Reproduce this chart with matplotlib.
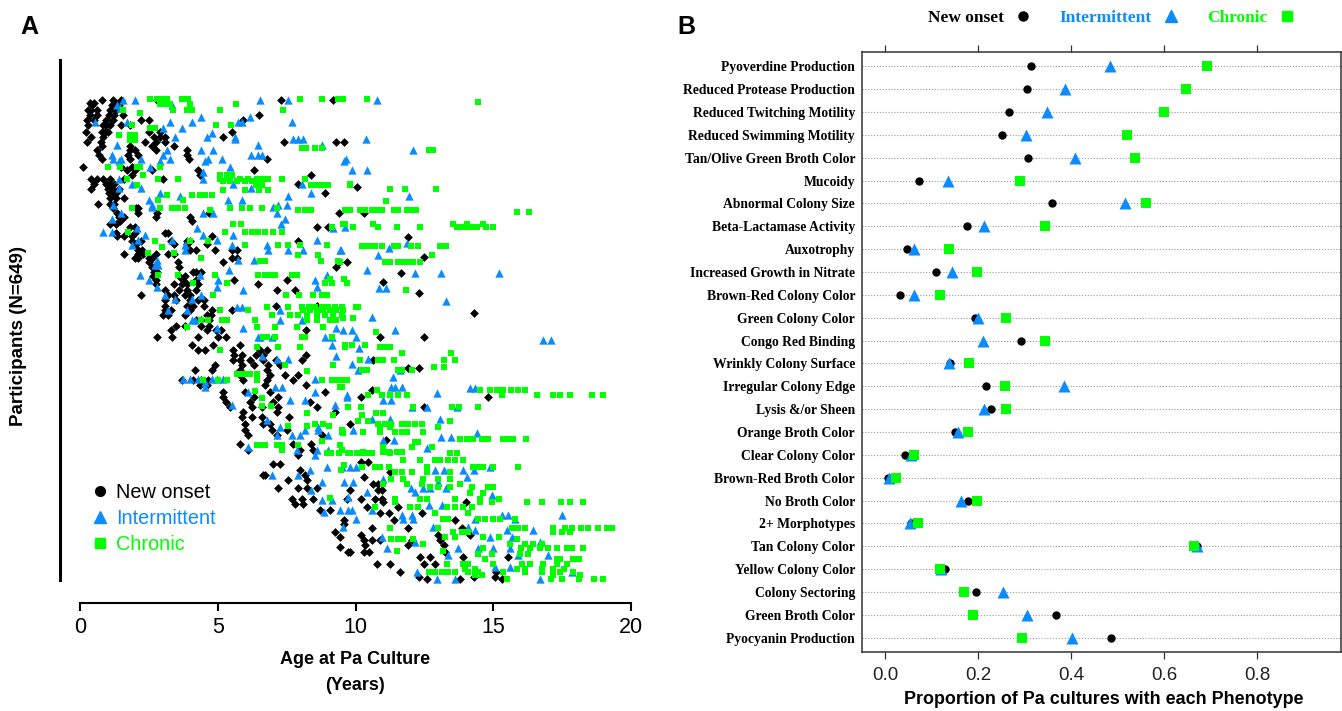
import matplotlib
matplotlib.use('Agg')
import matplotlib.pyplot as plt
from matplotlib.lines import Line2D

W, H = 1342, 711

# Panel A: one row per participant index: [participant, age, age, ...]
new_onset_rows = [
[648,.8,1.2,1.5,2.8,7.3,9.2],[644,.35,.5,1.3],[641,1.15,1.4,.45],[634,.3,.4,1.1,1.3,.6],[628,.35,.6,1.05,1.25,1.55,6.5],
[621,.25,.95,1.2,2.2,2.5,5.9,.5],[614,.3,.85,1.1,1.5,1.8,.95],[605,.2,.8,.9,1.0,2.5,2.9,5.5],
[598,.4,.85,2.7,2.9,3.1,5.2],[591,.25,.75,2.35,2.75,3.1,7.4,9.3,9.6],[586,.8,1.8,2.6,3.4],
[580,.6,1.8,2.0,2.75,3.9],[574,.7,1.75,2.1,3.9],[568,.8,1.8,3.95,6.8],[558,.12,1.5,1.9],
[553,1.7,2.0,2.6,4.3,6.3],[547,1.9,4.35,8.4],[541,.4,.6,.85,1.1,1.6,3.0],[535,.5,.95,1.1,1.25,7.9],
[530,10.07],[528,.4,1.0,1.2,1.4],[522,1.05,1.2,1.3,8.9],[516,1.1,1.3,1.6],[508,.65,1.1,1.25],
[502,1.2,2.05,2.1],[496,1.35,2.1,2.8,4.7,9.4,10.3],[490,1.4,1.6,2.75,4.0],[485,1.45,4.05],
[481,1.1,1.3],[477,1.8,2.0,8.6,9.0],[469,1.3,2.0,3.1,3.2],[465,1.35,1.6,1.9,4.8],[463,11.9],
[458,1.9,2.2,3.3,3.9,4.0,7.9],[453,2.05,3.4,3.9,4.6],[446,2.1,2.25,4.0,4.2,4.9,5.5,5.7],
[440,1.6,2.1,2.3,2.75,3.2,3.4],[436,12.5],[435,2.0,2.1,2.5,2.6,5.5,5.7],[429,2.5,3.55,5.2,9.4,9.7],
[423,2.6,2.7,3.6,9.3],[416,2.7,2.8,4.1,4.2,4.4],[414,11.65],[410,2.65,3.6,3.8],
[405,2.75,3.75,4.2,5.6,7.5],[402,11.0],[399,2.75,3.4,3.7,3.9,4.3,6.45],[392,3.1,3.6,3.9,4.2,7.16,7.8],
[387,12.3],[385,2.2,3.2,3.4,3.8,4.0],[378,3.1,3.5,4.0,4.3,4.5],[370,3.1,3.9,4.1,4.5,7.1,8.6],
[365,3.1,3.3,4.0,4.8,5.5],[360,14.3],[358,3.0,3.2,3.8,4.6,4.75],[351,4.2,4.4,4.7],[343,3.5,3.8,4.4,4.7],
[337,3.3,4.6,4.95,5.1,8.2],[328,2.8,3.35,4.3,5.0,5.3,10.9,12.5],[317,4.05,4.84,5.8],
[310,4.3,4.55,5.57,6.53,6.8],[304,5.6,5.87,6.4,6.65,8.2],[297,5.57,5.8,6.17,6.65,7.1,8.05,10.65],
[290,4.9,5.87,6.3,6.83,7.26],[286,11.9,12.3],[283,4.17,4.78,5.8,6.78],[277,5.8,6.9,7.44,7.9],
[270,3.7,4.1,4.4,4.65,5.9,6.8,7.74],[263,4.35,4.6,6.7,8.2],[256,10.6],[254,5.2,6.0,6.9,8.9],
[247,5.2,6.3,7.2,10.2,14.8],[241,5.3,6.17,7.0,8.35],[234,5.45,6.25,6.6,7.2,8.6,12.5],
[227,5.93,7.14,9.25],[220,5.87,6.23,6.6,7.6],[211,6.0,6.65,6.9,9.8],[202,6.0,6.96,7.5],
[196,6.1,7.14,8.8],[189,11.1],[184,5.8,7.74,8.4],[175,6.1,8.0,8.47],[169,7.9],[160,10.2,10.47],
[157,7.0,7.26],[148,8.0],[146,11.25],[142,6.65,6.7,8.17],[139,10.3],[135,7.56,8.23],[130,10.65,10.8],
[124,7.2,7.92,8.23,8.6],[121,9.8,10.8,10.95],[110,7.68,8.05,8.47,9.68,10.2,10.7,10.95],[106,11.0,14.0],
[103,7.8,8.1],[99,10.4,11.55],[94,8.7,9.07],[90,10.9,11.2,12.4],[81,9.6,11.4,13.6],[76,9.6],
[70,10.6,11.9,13.85],[65,9.25],[61,10.2,13.0,14.15],[58,9.44],[54,10.3,10.6,10.9,12.04,13.07],
[47,10.35,11.9,13.2],[45,9.44],[38,9.74,9.8,10.3,10.5,13.25],[31,12.35,12.7,13.9,15.55],
[22,10.77,11.25,12.5,12.9],[11,11.6,15.1],[4,12.3,14.3,15.06],[1,12.6,13.8,15.3],
]

intermittent_rows = [
[648,1.57,2.0,6.53,7.56,10.77],[641,1.33,3.33],[637,1.45],[625,6.17,4.4],
[618,.55,1.7,5.75,5.87,3.27,4.05,7.7],[610,3.0,3.7],[603,4.8],[598,3.45,4.6,5.63],
[595,5.63,7.74,7.9,8.1,10.38],[587,1.33,6.47,8.77],[581,3.15,4.84,4.4,12.08],
[574,1.15,3.0,6.2,6.47,6.6],[568,1.2,1.5,2.2,3.27,4.66,5.14,9.66],[565,1.4,2.9,4.54,9.6],
[557,2.54,5.44],[553,9.86,10.43],[551,4.48],[542,1.4,4.48],[535,1.9,5.57,8.05],[529,1.4,2.2,6.2],
[522,8.4,2.9],[518,7.56,3.63,11.96],[513,2.5,5.38,5.87],[506,1.2,2.6,7.2,7.5],[504,2.6,7.0],
[495,1.5,4.48,4.84,7.14],[488,1.15,7.44],[481,7.3],[477,9.62],[475,2.06,4.23,9.2],[470,.85,1.15],
[466,2.36,4.48,5.57],[459,2.12,3.33,4.96,8.6],[455,11.86],[452,1.87,3.8,5.5,6.8],[448,11.23],
[446,3.8,6.84,7.56,8.1,9.44,9.48],[439,10.83],[432,2.78,5.75,6.3],[425,2.72,2.84],[418,5.4,10.43],
[415,12.16,13.1,15.2],[412,2.18,4.35,8.95],[405,2.5,5.0,8.53],[396,2.8,4.96,8.6],[394,10.87,11.1],
[391,5.93],[385,3.08,4.4],[380,3.45,4.05],[376,13.3],[369,5.7,5.87],[364,3.2,3.87,7.26],[355,10.6],
[351,4.05,4.17,7.26,8.05],[340,4.96,5.93,9.3],[337,9.54,9.86,11.44],[328,6.47,8.9,6.53,6.96,9.13,10.0],
[324,16.8,17.1],[317,9.13],[313,10.14],[302,6.6,9.3],[299,10.47,7.14,7.56],[292,9.86],[283,10.1,11.6],
[274,11.35],[272,3.75,4.0,4.3,4.78,4.96,5.2,8.53],[268,4.54],[261,4.54,7.08,7.32,11.3,11.44,11.68],
[259,14.16,14.34],[254,6.1,8.53],[252,12.95],[250,9.68],[247,9.68],[243,8.17,7.62,11.0,11.3],
[236,5.5,9.25],[234,12.04,12.6,13.67],[218,10.6,11.25,13.05],[216,6.78],[207,7.26,8.65],
[203,9.92,8.17,8.65,9.5],[198,14.4],[196,7.14,7.68,8.0,9.0],[193,13.1,13.45],[189,11.0,11.4],
[180,6.1],[178,12.6],[175,7.86,8.6,9.0],[169,8.53],[153,8.95,9.5,9.8,10.0,14.9],
[148,8.35,12.9,13.2,13.9,14.3],[142,6.96,7.92],[139,14.04],[137,11.0],[133,8.77,9.6,9.92,13.0],
[124,12.0,12.46,12.7,13.3],[121,8.4],[119,10.4,12.16],[115,14.95],[112,9.74],[108,8.77,9.13],
[101,12.65,13.13],[94,9.44,9.86,10.6,9.74],[92,8.84],[88,11.7,12.04,15.3,15.55,17.5],
[83,10.0,11.74,12.1,14.34,15.8],[72,9.55,14.1,12.8],[67,14.34,15.5,16.46],[58,10.95,14.9,15.67],
[52,12.16,16.7],[43,11.13,13.73,14.46,15.0,15.6],[34,13.37,15.91,17.0],[18,15.06,15.6],[11,12.22,17.85],
[2,12.95,13.6,16.7],
]

chronic_rows = [
[649,2.54,2.8,3.0,3.15,3.7,3.8,3.93,8.0,8.77,9.38,9.56,10.4],[645,14.44],[643,2.9,3.1,3.27,4.0,5.66],
[634,1.57,4.05,3.87,3.39,5.08,7.38],[630,2.18],[614,4.94,5.47,1.9],[610,2.54,2.72],[601,1.4,1.8,2.0],
[594,1.8,2.0],[583,8.05,8.2,8.53,8.77],[581,12.65,12.83],[558,2.06,2.18,1.03,1.45,2.9],[547,5.08,5.33,5.5,2.3],
[542,1.7,2.84,3.57,5.08,5.33,5.8,6.1,6.41,6.65,6.84,7.32,8.17],[538,5.2,5.44,5.69,6.0,6.23,6.53],
[534,9.8],[533,2.06,6.4,6.6,8.4,8.6,8.83,9.0,9.8],[528,11.25,11.8,12.93],[526,5.2,6.0,6.5,6.84],
[520,3.15,4.05,4.36,4.54,4.8],[513,2.84,3.75],[511,11.1],[502,2.9,3.33,3.57,3.8,5.44,5.87,6.17,6.6,7.14,1.87],
[499,7.92,8.17,8.4,9.68,4.72,9.62,9.8,10.17,10.35,10.6,10.77,10.95,11.38,11.56,11.86,12.04,12.2],
[497,15.85,16.3],[480,5.57,5.83,9.56,9.62,10.65,13.55,14.64,14.04],
[476,9.13,9.92,10.8,11.5,12.34,13.67,13.86,14.04,14.22,14.42,14.74,15.0],
[470,5.26,6.0,6.23,6.47,6.7,7.0,7.32,1.75],[457,2.72,4.0,4.66],[452,6.0,7.2,7.56,8.0,8.95],
[451,10.23,10.4,10.6,10.7,10.95,11.38,11.56,12.0,12.28,13.07,13.29],[449,2.96],[441,2.48,3.4],
[439,7.9,8.65,12.77],[435,4.4],[430,6.53,6.7,8.73,9.38],[429,9.44,11.07,11.25,11.56,11.7,11.92,12.08,12.34],
[412,2.84,3.57,4.9,6.47,6.7,6.9,7.08,7.68,7.86],[407,9.07,9.6],[401,8.9,9.13,9.68,4.1,5.32,9.7],[392,11.84],
[385,4.84,7.48,7.95,8.47,8.77,8.95],[369,6.78,7.56,8.05,8.3,8.53,8.77,9.0,9.25,9.5,10.0,10.1],
[364,5.08,6.1,8.1,8.35,8.6,8.83,9.07,9.3,9.56],[358,6.96,7.62,7.92,8.23,8.6,8.9,9.2,9.5],
[354,9.54,9.9],[351,4.4,4.66,5.14,5.33,6.35,8.23,8.6,9.07,9.3],[342,3.87,6.41,7.08,7.86,8.83],
[335,10.75],[328,6.65,6.8,7.08,8.05,8.17,9.13],[317,9.62,9.86,10.35],[315,6.41,7.2,7.99,9.62],
[314,10.9,11.07,11.25],[310,5.08],[306,11.68,13.46],[297,10.17,10.83,11.0,11.38,13.2,13.6],
[290,7.44,9.2],[288,12.86,13.2],[283,10.23,10.4,11.56,11.68,12.04],[282,8.23],[278,5.69,5.87,6.05,6.17,6.41],
[270,4.48,5.02,5.33,6.41,8.8,9.13,9.38,9.62,9.5,9.68],[261,9.44,9.5],[256,14.52,14.9,15.13,15.37,15.63,15.91,16.15,10.77],
[255,6.35],[250,10.47,10.95,11.25,11.56,11.86,15.3,16.6,17.18,17.43,17.79,18.6,19.0],[246,6.6],[235,6.6,6.93],
[234,9.74,10.19,12.08,13.49,13.76,14.46],[226,8.23,10.75,11.0],[223,9.2,10.23],[215,10.1,10.47,13.43],
[211,8.53,8.83,10.83,11.07,11.3,11.68,11.92,12.16,12.4],[208,7.56,8.23,9.05],[207,10.9,11.25,13.0],[202,9.5],
[200,9.56,10.29,10.9,11.44,11.68,11.86,12.46],[198,9.56],[190,13.8,14.04,14.28,14.58,14.82,15.37,15.55,15.73,16.2],
[188,8.77],[187,12.28,12.16],[182,6.41,6.6,6.7,7.14,7.32,7.92,9.44],[180,11.0,12.04,12.77],
[175,7.32,9.5],[173,11.0,11.2,11.5,11.68,10.29],[171,8.95,9.1,9.4,9.74,9.8,10.05,10.23,10.4,10.6,11.25,13.43,13.67],
[162,11.74,12.34,12.9,13.07,13.37,13.6,13.92],[155,9.6],[153,11.2,12.59,14.28,14.46,14.64,14.98,15.91,10.7,10.9,10.23],
[148,9.47],[146,11.44,11.68,12.04,12.59,13.43],[137,11.3,11.74,12.46,13.0,13.43],[130,11.0,11.86,13.8,12.4],
[126,12.7,13.0,13.43,14.22,14.82,15.0],[117,14.16,14.64],[111,9.07],[110,11.44,12.34,12.6,13.6,14.52,15.2],
[106,11.44,14.52,14.95,16.24,16.76,17.45,17.79,18.27],[99,10.7,11.98,12.28,13.31,13.6,13.92,14.22],[90,12.9,14.1],
[82,13.19,13.37,14.46,14.7,15.0,15.25,15.8],[70,11.25,13.0,15.67,15.91,16.15,17.18,17.6,17.85,18.2,18.45,18.8,19.12,19.3],
[65,13.55,13.85,14.1,17.18,17.48,17.79],[58,13.25,13.6,14.64,15.2],[55,11.3,11.56,11.74,12.1,15.85],
[49,12.46,15.6,16.15,16.46,16.76],[43,14.64,16.0,16.33,16.7,17.0,17.3,17.67,17.85,18.27],[39,11.5,13.19],
[35,14.46,14.95,15.97,16.27],[28,14.7,17.3,17.43,17.91,18.1],[22,13.31,13.92,14.1,15.0,16.03,16.33,16.82,17.3,17.67],
[15,13.98,14.34,15.85,16.15,16.76,17.18,17.55],[11,12.65,12.9,13.13,13.37,13.6,14.1,14.46,15.37,16.15,16.76,17.43,17.9],
[7,14.34,14.58,17.18,18.15],[1,15.5,17.1,17.5,18.1,18.64,19.0],
]

# Panel B
phenotypes = ["Pyoverdine Production","Reduced Protease Production","Reduced Twitching Motility",
"Reduced Swimming Motility","Tan/Olive Green Broth Color","Mucoidy","Abnormal Colony Size",
"Beta-Lactamase Activity","Auxotrophy","Increased Growth in Nitrate","Brown-Red Colony Color",
"Green Colony Color","Congo Red Binding","Wrinkly Colony Surface","Irregular Colony Edge",
"Lysis &/or Sheen","Orange Broth Color","Clear Colony Color","Brown-Red Broth Color","No Broth Color",
"2+ Morphotypes","Tan Colony Color","Yellow Colony Color","Colony Sectoring","Green Broth Color",
"Pyocyanin Production"]
prop_new = [.313,.305,.267,.252,.307,.074,.36,.177,.048,.11,.033,.193,.293,.14,.217,.228,.15,.043,.006,.178,.055,.672,.13,.195,.367,.485]
prop_int = [.483,.388,.348,.304,.408,.136,.517,.212,.062,.145,.063,.2,.21,.138,.385,.212,.157,.055,.008,.163,.053,.672,.12,.253,.305,.403]
prop_chr = [.693,.648,.6,.52,.538,.29,.562,.345,.137,.197,.118,.26,.345,.18,.257,.26,.178,.062,.023,.197,.072,.665,.118,.17,.19,.295]

BLACK, BLUE, GREEN = '#000000', '#0A8CFF', '#00FF00'
SANS = 'Liberation Sans'
SERIF = 'Liberation Serif'

def flatten(rows):
    ages, ids = [], []
    for r in rows:
        for a in r[1:]:
            ages.append(a)
            ids.append(r[0])
    return ages, ids

def box(l, t, r, b):
    return [l / W, 1 - b / H, (r - l) / W, (b - t) / H]

fig = plt.figure(figsize=(W / 100, H / 100), dpi=100)

# ---------- Panel A ----------
axA = fig.add_axes(box(80, 60, 631, 603))
axA.set_xlim(0, 20)
axA.set_ylim(-31, 702)
for rows, m, c, s in [(new_onset_rows, 'D', BLACK, 20), (intermittent_rows, '^', BLUE, 36), (chronic_rows, 's', GREEN, 24)]:
    xs, ys = flatten(rows)
    axA.scatter(xs, ys, marker=m, c=c, s=s, linewidths=0, clip_on=False)
for sp in ('top', 'right'):
    axA.spines[sp].set_visible(False)
axA.spines['left'].set_position(('outward', 20 * 0.72))
axA.spines['left'].set_bounds(0, 702)
axA.spines['left'].set_linewidth(2.2)
axA.spines['bottom'].set_bounds(0, 20)
axA.spines['bottom'].set_linewidth(1.5)
axA.set_yticks([])
axA.set_xticks([0, 5, 10, 15, 20])
axA.tick_params(axis='x', length=6, width=1.5, pad=4, labelsize=15.5)
for t in axA.get_xticklabels():
    t.set_fontfamily(SANS)
fig.text(19 / W, 1 - 336 / H, 'Participants (N=649)', rotation=90, fontsize=13.5, fontweight='bold',
         family=SANS, ha='center', va='center')
fig.text(355 / W, 1 - 660 / H, 'Age at Pa Culture', fontsize=13, fontweight='bold', family=SANS, ha='center', va='center')
fig.text(355 / W, 1 - 685 / H, '(Years)', fontsize=13, fontweight='bold', family=SANS, ha='center', va='center')
handlesA = [Line2D([], [], ls='', marker='o', color=BLACK, ms=7, label='New onset'),
            Line2D([], [], ls='', marker='^', color=BLUE, ms=8, label='Intermittent'),
            Line2D([], [], ls='', marker='s', color=GREEN, ms=6.5, label='Chronic')]
legA = axA.legend(handles=handlesA, frameon=False, loc='upper left', prop={'family': SANS, 'size': 14.3},
                  bbox_to_anchor=(86 / W, 1 - 483 / H), bbox_transform=fig.transFigure, labelcolor='linecolor',
                  handletextpad=0.1, labelspacing=0.35, borderpad=0, borderaxespad=0, handlelength=1.4)

# ---------- Panel B ----------
axB = fig.add_axes(box(862, 52, 1341, 652))
ypos = list(range(len(phenotypes)))
axB.set_ylim(len(phenotypes) - 1 + 0.63, -0.63)
axB.set_xlim((862 - 885) / 465, (1341 - 885) / 465)
axB.hlines(ypos, *axB.get_xlim(), colors='#9a9a9a', linestyles=(0, (1, 1.6)), linewidth=0.8, zorder=1)
axB.scatter(prop_new, ypos, marker='o', c=BLACK, s=36, linewidths=0, zorder=3, label='New onset')
axB.scatter(prop_int, ypos, marker='^', c=BLUE, s=75, linewidths=0, zorder=4, label='Intermittent')
axB.scatter(prop_chr, ypos, marker='s', c=GREEN, s=58, linewidths=0, zorder=5, label='Chronic')
axB.set_yticks(ypos)
axB.set_yticklabels(phenotypes, fontfamily=SERIF, fontweight='bold', fontsize=9.8)
axB.tick_params(axis='y', length=0, pad=5)
axB.set_xticks([0, .2, .4, .6, .8])
axB.set_xticklabels(['0.0', '0.2', '0.4', '0.6', '0.8'], fontfamily=SANS, fontsize=13.5)
axB.tick_params(axis='x', top=True, length=5, width=0.9, pad=6, color='#333333', labelcolor='#222222')
for sp in axB.spines.values():
    sp.set_linewidth(1.1)
    sp.set_color('#333333')
fig.text(1104 / W, 1 - 700 / H, 'Proportion of Pa cultures with each Phenotype', fontsize=12.85, fontweight='bold',
         family=SANS, ha='center', va='center')
handlesB = [Line2D([], [], ls='', marker='o', color=BLACK, ms=6.5, label='New onset'),
            Line2D([], [], ls='', marker='^', color=BLUE, ms=8, label='Intermittent'),
            Line2D([], [], ls='', marker='s', color=GREEN, ms=7.5, label='Chronic')]
axB.legend(handles=handlesB, frameon=False, ncol=3, markerfirst=False, labelcolor='linecolor', loc='center left',
           bbox_to_anchor=(928 / W, 1 - 18 / H), bbox_transform=fig.transFigure, borderpad=0, borderaxespad=0,
           prop={'family': SERIF, 'weight': 'bold', 'size': 12.5}, handletextpad=0.5, columnspacing=1.5, handlelength=1.2)

fig.text(29 / W, 1 - 27 / H, 'A', fontsize=18, fontweight='bold', family=SANS, ha='center', va='center')
fig.text(686 / W, 1 - 27 / H, 'B', fontsize=18, fontweight='bold', family=SANS, ha='center', va='center')

fig.savefig('out.png', dpi=100, facecolor='white')
